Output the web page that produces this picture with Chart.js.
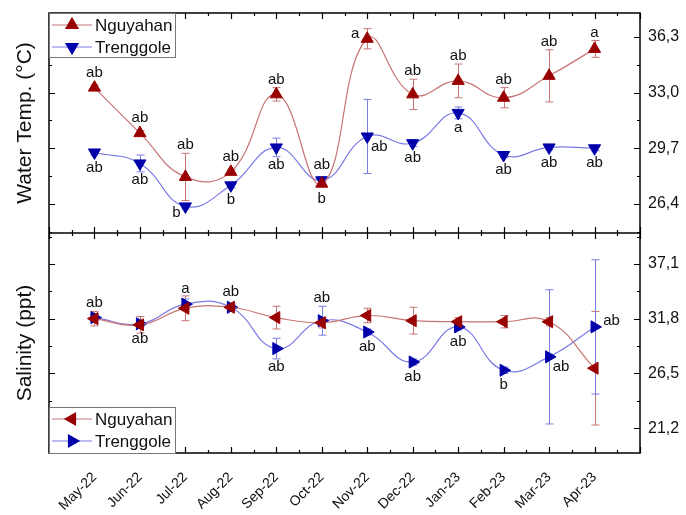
<!DOCTYPE html>
<html>
<head>
<meta charset="utf-8">
<script src="https://cdn.jsdelivr.net/npm/chart.js@4.4.0/dist/chart.umd.min.js"></script>
<style>
  html, body { margin: 0; padding: 0; background: #fff; }
  #wrap { width: 686px; height: 515px; position: relative; }
</style>
</head>
<body>
<div id="wrap"><canvas id="chart"></canvas></div>
<script>
// --- Data ---
const months = ['May-22', 'Jun-22', 'Jul-22', 'Aug-22', 'Sep-22', 'Oct-22', 'Nov-22', 'Dec-22', 'Jan-23', 'Feb-23', 'Mar-23', 'Apr-23'];

const tempNguyahan = [33.3, 30.6, 28.0, 28.3, 32.9, 27.6, 36.2, 32.9, 33.7, 32.7, 34.0, 35.6];
const tempNguyahanErr = [0.15, 0.15, 1.4, 0.15, 0.4, 0.15, 0.6, 0.9, 1.0, 0.6, 1.55, 0.5];
const tempTrenggole = [29.45, 28.8, 26.25, 27.5, 29.75, 27.8, 30.4, 30.0, 31.8, 29.3, 29.75, 29.7];
const tempTrenggoleErr = [0.15, 0.5, 0.15, 0.15, 0.55, 0.2, 2.2, 0.2, 0.35, 0.15, 0.15, 0.15];

const salNguyahan = [31.8, 31.2, 32.8, 32.9, 31.9, 31.4, 32.1, 31.6, 31.5, 31.5, 31.5, 27.0];
const salNguyahanErr = [0.7, 0.8, 1.2, 0.3, 1.1, 0.5, 0.7, 1.3, 0.4, 0.6, 0.4, 5.5];
const salTrenggole = [31.9, 31.3, 33.2, 32.9, 28.9, 31.6, 30.5, 27.6, 31.0, 26.8, 28.1, 31.0];
const salTrenggoleErr = [0.3, 0.3, 0.5, 0.3, 1.0, 1.4, 0.3, 0.3, 0.3, 0.3, 6.5, 6.5];

// significance letters
const tempNguyahanLetters = ['ab', 'ab', 'ab', 'ab', 'ab', 'b', 'a', 'ab', 'ab', 'ab', 'ab', 'a'];
const tempTrenggoleLetters = ['ab', 'ab', 'b', 'b', 'ab', 'ab', 'ab', 'ab', 'a', 'ab', 'ab', 'ab'];
const salTrenggoleLetters = ['ab', 'ab', 'a', 'ab', 'ab', 'ab', 'ab', 'ab', 'ab', 'b', 'ab', 'ab'];

const tempTicks = [26.4, 29.7, 33.0, 36.3];
const salTicks = [21.2, 26.5, 31.8, 37.1];

// --- Styling ---
const FONT = '"Liberation Sans", Arial, sans-serif';
const RED = '#990000', RED_LINE = '#c87474';
const BLUE = '#0000aa', BLUE_LINE = '#7b7be6';

// where each letter sits relative to its point
const tempNguyahanPos = ['up', 'up', 'up', 'up', 'up', 'down', 'left', 'up', 'up', 'up', 'up', 'up'];
const tempTrenggolePos = ['down', 'down', 'leftdown', 'down', 'down', 'up', 'rightdown', 'down', 'down', 'down', 'down', 'down'];
const salTrenggolePos = ['up', 'down', 'up', 'up', 'down', 'up', 'down', 'down', 'down', 'down', 'rightdown', 'right'];

const toPoints = arr => arr.map((v, i) => ({ x: i, y: v }));

const makeSet = (label, data, axis, color, lineColor, rotation, errs, letters, pos) => ({
    label,
    data: toPoints(data),
    yAxisID: axis,
    borderColor: lineColor,
    backgroundColor: color,
    pointBackgroundColor: color,
    pointBorderColor: color,
    pointBorderWidth: 1,
    pointStyle: 'triangle',
    pointRotation: rotation,
    pointRadius: 7,
    borderWidth: 1.2,
    tension: 0.45,
    errs, letters, pos, lineColor
});

const datasets = [
    makeSet('Nguyahan', tempNguyahan, 'y', RED, RED_LINE, 0, tempNguyahanErr, tempNguyahanLetters, tempNguyahanPos),
    makeSet('Trenggole', tempTrenggole, 'y', BLUE, BLUE_LINE, 180, tempTrenggoleErr, tempTrenggoleLetters, tempTrenggolePos),
    makeSet('Nguyahan', salNguyahan, 'y2', RED, RED_LINE, 270, salNguyahanErr, null, null),
    makeSet('Trenggole', salTrenggole, 'y2', BLUE, BLUE_LINE, 90, salTrenggoleErr, salTrenggoleLetters, salTrenggolePos)
];

const fmt = v => v.toFixed(1).replace('.', ',');

// --- Custom drawing: error bars, frame, ticks, legends, letters ---
const panelPlugin = {
    id: 'panels',
    beforeDatasetsDraw(chart) {
        const ctx = chart.ctx;
        const xs = chart.scales.x;
        ctx.save();
        chart.data.datasets.forEach(ds => {
            const ys = chart.scales[ds.yAxisID];
            ctx.strokeStyle = ds.lineColor;
            ctx.lineWidth = 1;
            ds.data.forEach((p, i) => {
                const e = ds.errs[i];
                const x = Math.round(xs.getPixelForValue(p.x)) + 0.5;
                const y1 = ys.getPixelForValue(p.y + e);
                const y2 = ys.getPixelForValue(p.y - e);
                ctx.beginPath();
                ctx.moveTo(x, y1); ctx.lineTo(x, y2);
                ctx.moveTo(x - 4, y1); ctx.lineTo(x + 4, y1);
                ctx.moveTo(x - 4, y2); ctx.lineTo(x + 4, y2);
                ctx.stroke();
            });
        });
        ctx.restore();
    },
    afterDatasetsDraw(chart) {
        const ctx = chart.ctx;
        const { left, right, top, bottom } = chart.chartArea;
        const xs = chart.scales.x, yt = chart.scales.y, yb = chart.scales.y2;
        const mid = yt.bottom;
        ctx.save();

        // letters
        ctx.fillStyle = '#111';
        ctx.font = '15px ' + FONT;
        ctx.textAlign = 'center';
        ctx.textBaseline = 'middle';
        chart.data.datasets.forEach(ds => {
            if (!ds.letters) return;
            const ys = chart.scales[ds.yAxisID];
            ds.data.forEach((p, i) => {
                const x = xs.getPixelForValue(p.x);
                const y = ys.getPixelForValue(p.y);
                const eTop = Math.min(ys.getPixelForValue(p.y + ds.errs[i]), y - 7);
                const eBot = Math.max(ys.getPixelForValue(p.y - ds.errs[i]), y + 7);
                let lx = x, ly = y;
                switch (ds.pos[i]) {
                    case 'up': ly = eTop - 8; break;
                    case 'down': ly = eBot + 8; break;
                    case 'left': lx = x - 12; ly = y - 5; break;
                    case 'leftdown': lx = x - 9; ly = y + 6; break;
                    case 'rightdown': lx = x + 12; ly = y + 10; break;
                    case 'right': lx = x + 17; ly = y - 6; break;
                }
                ctx.fillText(ds.letters[i], lx, ly);
            });
        });

        // frame
        ctx.strokeStyle = '#000';
        ctx.lineWidth = 1.5;
        ctx.strokeRect(left, top, right - left, bottom - top);
        ctx.beginPath();
        ctx.moveTo(left, mid); ctx.lineTo(right, mid);
        ctx.stroke();

        // tick marks
        ctx.lineWidth = 1.2;
        ctx.beginPath();
        for (let v = xs.min; v <= xs.max + 1e-6; v += 0.5) {
            const x = Math.round(xs.getPixelForValue(v)) + 0.5;
            const len = Number.isInteger(v) ? 6 : 3;
            [top, mid, bottom].forEach((edge, k) => {
                if (k !== 0) { ctx.moveTo(x, edge); ctx.lineTo(x, edge - len); }
                if (k !== 2) { ctx.moveTo(x, edge); ctx.lineTo(x, edge + len); }
            });
        }
        [[yt, tempTicks], [yb, salTicks]].forEach(([ys, ticks]) => {
            const step = (ticks[1] - ticks[0]) / 2;
            const start = Math.ceil(ys.min / step) * step;
            for (let v = start; v <= ys.max; v += step) {
                const y = Math.round(ys.getPixelForValue(v)) + 0.5;
                const major = ticks.some(t => Math.abs(t - v) < 1e-6);
                const len = major ? 6 : 3;
                ctx.moveTo(left, y); ctx.lineTo(left + len, y);
                ctx.moveTo(right, y); ctx.lineTo(right - len, y);
            }
        });
        ctx.stroke();

        // legends
        const drawLegend = (boxTop, boxH, entries) => {
            ctx.fillStyle = '#fff';
            ctx.fillRect(left, boxTop, 126, boxH);
            ctx.strokeStyle = '#777';
            ctx.lineWidth = 1;
            ctx.strokeRect(left + 0.5, boxTop + 0.5, 126, boxH);
            entries.forEach((ds, k) => {
                const y = boxTop + 12 + k * 22;
                ctx.strokeStyle = ds.lineColor;
                ctx.lineWidth = 1.2;
                ctx.beginPath();
                ctx.moveTo(left + 3, y); ctx.lineTo(left + 43, y);
                ctx.stroke();
                ctx.fillStyle = ds.backgroundColor;
                ctx.strokeStyle = ds.backgroundColor;
                Chart.helpers.drawPoint(ctx, { pointStyle: 'triangle', radius: 7, rotation: ds.pointRotation, borderWidth: 1 }, left + 23, y);
                ctx.fillStyle = '#111';
                ctx.font = '17px ' + FONT;
                ctx.textAlign = 'left';
                ctx.textBaseline = 'middle';
                ctx.fillText(ds.label, left + 46, y + 1);
            });
        };
        const d = chart.data.datasets;
        drawLegend(top, 44, [d[0], d[1]]);
        drawLegend(bottom - 46, 46, [d[2], d[3]]);

        // axis titles
        ctx.fillStyle = '#111';
        ctx.font = '21px ' + FONT;
        ctx.textAlign = 'center';
        ctx.textBaseline = 'middle';
        [[ 'Water Temp. (°C)', (top + mid) / 2 ], [ 'Salinity (ppt)', (mid + bottom) / 2 ]].forEach(([t, cy]) => {
            ctx.save();
            ctx.translate(25, cy);
            ctx.rotate(-Math.PI / 2);
            ctx.fillText(t, 0, 0);
            ctx.restore();
        });
        ctx.restore();
    }
};

const yScale = (ticks, min, max) => ({
    type: 'linear',
    position: 'right',
    stack: 'panels',
    stackWeight: 1,
    min, max,
    grid: { display: false, drawTicks: false },
    border: { display: false },
    afterBuildTicks: scale => { scale.ticks = ticks.map(v => ({ value: v })); },
    afterFit: scale => {
        scale.width = 46;
        scale.paddingTop = 0;
        scale.paddingBottom = 0;
    },
    ticks: {
        color: '#111',
        padding: 8,
        font: { family: FONT, size: 16 },
        callback: v => fmt(v)
    }
});

new Chart(document.getElementById('chart'), {
    type: 'line',
    data: { datasets },
    options: {
        responsive: true,
        maintainAspectRatio: false,
        animation: false,
        devicePixelRatio: 1,
        layout: { padding: { left: 49, top: 13, right: 0, bottom: 0 } },
        plugins: { legend: { display: false }, tooltip: { enabled: false } },
        scales: {
            x: {
                type: 'linear',
                min: -1, max: 12,
                grid: { display: false, drawTicks: false },
                border: { display: false },
                afterBuildTicks: scale => { scale.ticks = months.map((m, i) => ({ value: i })); },
                afterFit: scale => { scale.height = 62; },
                ticks: {
                    color: '#111',
                    autoSkip: false,
                    maxRotation: 45,
                    minRotation: 45,
                    padding: 16,
                    font: { family: FONT, size: 14 },
                    callback: v => months[v] || ''
                }
            },
            y: yScale(tempTicks, 24.67, 37.73),
            y2: yScale(salTicks, 18.79, 40.09)
        }
    },
    plugins: [panelPlugin]
});
</script>
</body>
</html>
